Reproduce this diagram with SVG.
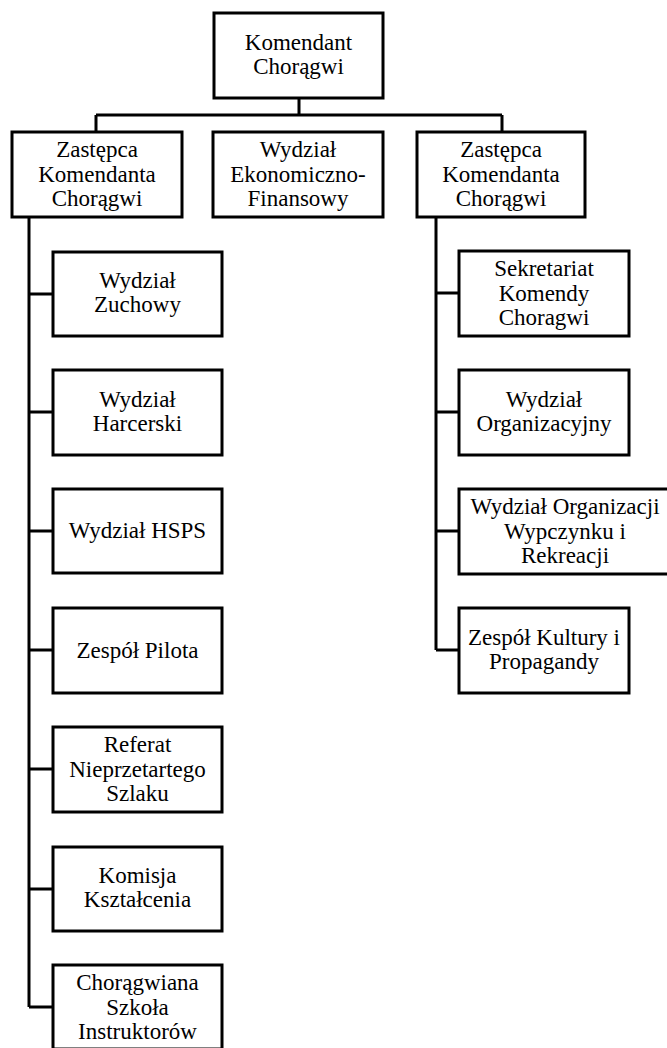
<svg xmlns="http://www.w3.org/2000/svg" width="667" height="1048" viewBox="0 0 667 1048">
<style>
  rect.box { fill: #ffffff; stroke: #000000; stroke-width: 3; }
  .conn { fill: none; stroke: #000000; stroke-width: 3; }
  text { font-family: "Liberation Serif", Tinos, "DejaVu Serif", serif; font-size: 23px; fill: #000000; text-anchor: middle; }
</style>
<rect width="667" height="1048" fill="#ffffff"/>
<g id="connectors">
  <path class="conn" d="M299 98 V115 M96 115 H502 M96 115 V132 M502 115 V132"/>
  <path class="conn" d="M29 217 V1007 M29 294 H53 M29 412 H53 M29 531 H53 M29 650 H53 M29 769 H53 M29 889 H53 M29 1007 H53"/>
  <path class="conn" d="M436 217 V650 M436 293 H459 M436 412 H459 M436 531 H459 M436 650 H459"/>
</g>
<g id="n-komendant">
  <rect class="box" x="214" y="13" width="169" height="85"/>
  <text x="298.5" y="50">Komendant</text>
  <text x="298.5" y="74">Chorągwi</text>
</g>
<g id="n-zastepca-left">
  <rect class="box" x="12" y="132" width="170" height="85"/>
  <text x="97" y="157">Zastępca</text>
  <text x="97" y="182">Komendanta</text>
  <text x="97" y="206">Chorągwi</text>
</g>
<g id="n-ekonomiczny">
  <rect class="box" x="213" y="132" width="170" height="85"/>
  <text x="298" y="157">Wydział</text>
  <text x="298" y="182">Ekonomiczno-</text>
  <text x="298" y="206">Finansowy</text>
</g>
<g id="n-zastepca-right">
  <rect class="box" x="417" y="132" width="168" height="85"/>
  <text x="501" y="157">Zastępca</text>
  <text x="501" y="182">Komendanta</text>
  <text x="501" y="206">Chorągwi</text>
</g>
<g id="n-zuchowy">
  <rect class="box" x="53" y="252" width="169" height="84"/>
  <text x="137.5" y="288">Wydział</text>
  <text x="137.5" y="312">Zuchowy</text>
</g>
<g id="n-harcerski">
  <rect class="box" x="53" y="370" width="169" height="85"/>
  <text x="137.5" y="407">Wydział</text>
  <text x="137.5" y="431">Harcerski</text>
</g>
<g id="n-hsps">
  <rect class="box" x="53" y="489" width="169" height="84"/>
  <text x="137.5" y="538">Wydział HSPS</text>
</g>
<g id="n-pilota">
  <rect class="box" x="53" y="608" width="169" height="85"/>
  <text x="137.5" y="658">Zespół Pilota</text>
</g>
<g id="n-referat">
  <rect class="box" x="53" y="727" width="169" height="85"/>
  <text x="137.5" y="752">Referat</text>
  <text x="137.5" y="777">Nieprzetartego</text>
  <text x="137.5" y="801">Szlaku</text>
</g>
<g id="n-ksztalcenia">
  <rect class="box" x="53" y="847" width="169" height="84"/>
  <text x="137.5" y="883">Komisja</text>
  <text x="137.5" y="907">Kształcenia</text>
</g>
<g id="n-szkola">
  <rect class="box" x="53" y="965" width="169" height="84"/>
  <text x="137.5" y="990">Chorągwiana</text>
  <text x="137.5" y="1015">Szkoła</text>
  <text x="137.5" y="1039">Instruktorów</text>
</g>
<g id="n-sekretariat">
  <rect class="box" x="459" y="251" width="170" height="85"/>
  <text x="544" y="276">Sekretariat</text>
  <text x="544" y="301">Komendy</text>
  <text x="544" y="325">Choragwi</text>
</g>
<g id="n-organizacyjny">
  <rect class="box" x="459" y="370" width="170" height="85"/>
  <text x="544" y="407">Wydział</text>
  <text x="544" y="431">Organizacyjny</text>
</g>
<g id="n-wypoczynku">
  <rect class="box" x="459" y="489" width="212" height="85"/>
  <text x="565" y="514">Wydział Organizacji</text>
  <text x="565" y="539">Wypczynku i</text>
  <text x="565" y="563">Rekreacji</text>
</g>
<g id="n-kultury">
  <rect class="box" x="459" y="608" width="170" height="85"/>
  <text x="544" y="645">Zespół Kultury i</text>
  <text x="544" y="669">Propagandy</text>
</g>
</svg>
